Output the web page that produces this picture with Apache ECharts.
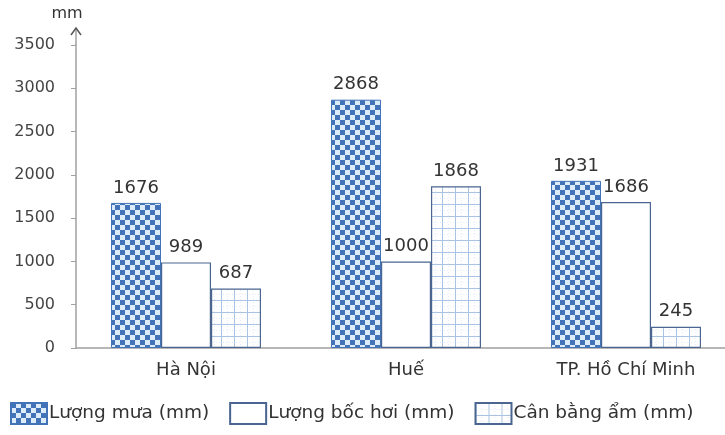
<!DOCTYPE html>
<html><head><meta charset="utf-8">
<script src="https://cdn.jsdelivr.net/npm/echarts@6/dist/echarts.min.js"></script>
<style>html,body{margin:0;padding:0;background:#fff;overflow:hidden}#c{width:745px;height:435px}</style>
</head><body><div id="c"></div>
<script>
var categories = ['Hà Nội', 'Huế', 'TP. Hồ Chí Minh'];
var seriesNames = ['Lượng mưa (mm)', 'Lượng bốc hơi (mm)', 'Cân bằng ẩm (mm)'];
var rainfall = [1676, 2868, 1931];
var evaporation = [989, 1000, 1686];
var moistureBalance = [687, 1868, 245];
var yTicks = [0, 500, 1000, 1500, 2000, 2500, 3000, 3500];
var unitLabel = 'mm';

function checker() {
  var c = document.createElement('canvas'); c.width = 10; c.height = 10;
  var g = c.getContext('2d');
  g.fillStyle = '#dcecfa'; g.fillRect(0, 0, 10, 10);
  g.fillStyle = '#4272b8'; g.fillRect(0, 0, 5, 5); g.fillRect(5, 5, 5, 5);
  return c;
}
function gridTile() {
  var c = document.createElement('canvas'); c.width = 13; c.height = 12;
  var g = c.getContext('2d');
  g.fillStyle = '#ffffff'; g.fillRect(0, 0, 13, 12);
  g.fillStyle = '#a9c3e3'; g.fillRect(0, 0, 1, 12); g.fillRect(0, 0, 13, 1);
  g.fillStyle = '#e3ecf7';
  for (var i = 2; i < 12; i += 3) { g.fillRect(6, i, 1, 1); }
  for (var j = 2; j < 13; j += 3) { g.fillRect(j, 6, 1, 1); }
  return c;
}

var chart = echarts.init(document.getElementById('c'), null, {renderer: 'canvas'});
var font = 'DejaVu Sans';
var labelCfg = {show: true, position: 'top', distance: 6, fontFamily: font, fontSize: 18, color: '#333'};
var gridLeft = 76;
chart.setOption({
  animation: false,
  textStyle: {fontFamily: font},
  grid: {left: gridLeft, width: 660, top: 45, bottom: 87},
  legend: {
    left: 5, top: 397, itemWidth: 36, itemHeight: 21, itemGap: 20,
    icon: 'rect',
    textStyle: {fontFamily: font, fontSize: 18.5, color: '#333', padding: [0, 0, 0, -3]},
    data: seriesNames
  },
  xAxis: {
    type: 'category', data: categories,
    axisLine: {lineStyle: {color: '#a0a0a0', width: 1.5}},
    axisTick: {show: false},
    axisLabel: {fontFamily: font, fontSize: 18, color: '#333', margin: 13}
  },
  yAxis: {
    type: 'value', min: yTicks[0], max: yTicks[yTicks.length - 1], interval: yTicks[1] - yTicks[0],
    splitLine: {show: false},
    axisLine: {show: true, lineStyle: {color: '#a0a0a0', width: 1.5}},
    axisTick: {show: true, length: 5, lineStyle: {color: '#a0a0a0'}},
    axisLabel: {fontFamily: font, fontSize: 16, color: '#444', margin: 21,
                formatter: function (v) { return String(v); }}
  },
  series: [
    {name: seriesNames[0], type: 'bar', data: rainfall, barWidth: 50, barGap: '0%',
     itemStyle: {color: {image: checker(), repeat: 'repeat'}, borderColor: '#4272b8', borderWidth: 1},
     label: labelCfg},
    {name: seriesNames[1], type: 'bar', data: evaporation, barWidth: 50, barGap: '0%',
     itemStyle: {color: '#ffffff', borderColor: '#4a6690', borderWidth: 1.2},
     label: labelCfg},
    {name: seriesNames[2], type: 'bar', data: moistureBalance, barWidth: 50, barGap: '0%',
     itemStyle: {color: {image: gridTile(), repeat: 'repeat'}, borderColor: '#4a6690', borderWidth: 1.2},
     label: labelCfg}
  ]
});

var topY = chart.convertToPixel({yAxisIndex: 0}, yTicks[yTicks.length - 1]);
var ax = gridLeft;
chart.setOption({
  graphic: [
    {type: 'polyline', shape: {points: [[ax, topY], [ax, topY - 17]]}, style: {stroke: '#a0a0a0', lineWidth: 1.5}},
    {type: 'polyline', shape: {points: [[ax - 5, topY - 10], [ax, topY - 17], [ax + 5, topY - 10]]}, style: {stroke: '#555', lineWidth: 1.5, fill: null}},
    {type: 'text', x: ax - 9, y: topY - 31, style: {text: unitLabel, font: '16px DejaVu Sans', fill: '#333', textAlign: 'center', textVerticalAlign: 'middle'}}
  ]
});
</script></body></html>
